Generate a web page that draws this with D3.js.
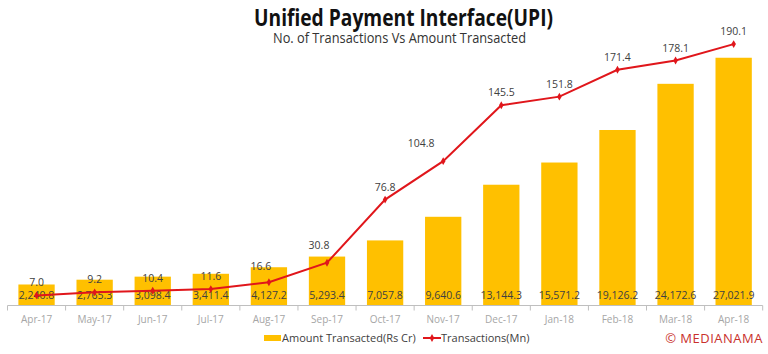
<!DOCTYPE html>
<html>
<head>
<meta charset="utf-8">
<script src="https://cdn.jsdelivr.net/npm/d3@7"></script>
<style>
  body { margin: 0; background: #fff; }
  svg { display: block; font-family: 'Open Sans', sans-serif; }
</style>
</head>
<body>
<div id="chart"></div>
<script>
// data
var months = ['Apr-17','May-17','Jun-17','Jul-17','Aug-17','Sep-17','Oct-17','Nov-17','Dec-17','Jan-18','Feb-18','Mar-18','Apr-18'];
var amount = [2240.8, 2765.3, 3098.4, 3411.4, 4127.2, 5293.4, 7057.8, 9640.6, 13144.3, 15571.2, 19126.2, 24172.6, 27021.9];
var transactions = [7.0, 9.2, 10.4, 11.6, 16.6, 30.8, 76.8, 104.8, 145.5, 151.8, 171.4, 178.1, 190.1];
var seriesNames = ['Amount Transacted(Rs Cr)', 'Transactions(Mn)'];

var width = 768, height = 354;
var barColor = '#ffc000', lineColor = '#e0161b';

var svg = d3.select('#chart')
    .append('svg')
        .attr('width', width)
        .attr('height', height);

// titles (the original is a bit condensed, so squeeze to its width)
svg.append('text')
    .attr('x', 254).attr('y', 25.5)
    .attr('textLength', 299).attr('lengthAdjust', 'spacingAndGlyphs')
    .style('font-size', '22.5px').style('font-weight', 'bold')
    .style('fill', '#111')
    .text('Unified Payment Interface(UPI)');
svg.append('text')
    .attr('x', 273).attr('y', 43)
    .attr('textLength', 253).attr('lengthAdjust', 'spacingAndGlyphs')
    .style('font-size', '14.5px')
    .style('fill', '#333')
    .text('No. of Transactions Vs Amount Transacted');

// scales
var plotTop = 30.5, plotBottom = 305;
var x = d3.scaleBand()
    .domain(months)
    .range([7.5, 762.7])
    .paddingInner(0.375)
    .paddingOuter(0.1875);
var step = x.step();
var yBar = d3.scaleLinear().domain([0, 30000]).range([plotBottom, plotTop]);
var yLine = d3.scaleLinear().domain([0, 200]).range([plotBottom, plotTop]);
var cx = function(m) { return x(m) + x.bandwidth() / 2; };

// bars
svg.append('g').selectAll('rect').data(months)
    .enter().append('rect')
    .attr('x', function(d) { return x(d); })
    .attr('y', function(d, i) { return yBar(amount[i]); })
    .attr('width', x.bandwidth())
    .attr('height', function(d, i) { return plotBottom - yBar(amount[i]); })
    .style('fill', barColor);

// bar labels (inside base)
svg.append('g').selectAll('text').data(months)
    .enter().append('text')
    .attr('x', cx)
    .attr('y', 299)
    .attr('text-anchor', 'middle')
    .style('font-size', '10.5px')
    .style('fill', '#404040')
    .text(function(d, i) { return d3.format(',.1f')(amount[i]); });

// x axis
var axis = svg.append('g')
    .attr('transform', 'translate(0,' + (plotBottom + 0.5) + ')');
axis.append('line')
    .attr('x1', 7.5).attr('x2', 762.7)
    .attr('stroke', '#bfbfbf');
axis.selectAll('line.tick').data(d3.range(months.length + 1))
    .enter().append('line')
    .attr('class', 'tick')
    .attr('x1', function(k) { return 7.5 + k * step; })
    .attr('x2', function(k) { return 7.5 + k * step; })
    .attr('y1', 0).attr('y2', 5)
    .attr('stroke', '#bfbfbf');
axis.selectAll('text').data(months)
    .enter().append('text')
    .attr('x', cx)
    .attr('y', 17)
    .attr('text-anchor', 'middle')
    .style('font-size', '10px')
    .style('fill', '#a6a6a6')
    .text(function(d) { return d; });

// line
var lineGen = d3.line()
    .x(function(d, i) { return cx(months[i]); })
    .y(function(d) { return yLine(d); });
svg.append('path')
    .datum(transactions)
    .attr('d', lineGen)
    .attr('fill', 'none')
    .attr('stroke', lineColor)
    .attr('stroke-width', 2);

var diamond = d3.symbol().type(d3.symbolDiamond).size(18);
svg.append('g').selectAll('path').data(transactions)
    .enter().append('path')
    .attr('d', diamond)
    .attr('transform', function(d, i) { return 'translate(' + cx(months[i]) + ',' + yLine(d) + ')'; })
    .style('fill', lineColor);

// line labels, a few nudged off the steep part of the line
var nudge = {4: [-8, -3], 5: [-8, -5], 7: [-22, -5]};
svg.append('g').selectAll('text').data(transactions)
    .enter().append('text')
    .attr('x', function(d, i) { return cx(months[i]) + (nudge[i] ? nudge[i][0] : 0); })
    .attr('y', function(d, i) { return yLine(d) - 9 + (nudge[i] ? nudge[i][1] : 0); })
    .attr('text-anchor', 'middle')
    .style('font-size', '10.5px')
    .style('fill', '#404040')
    .text(function(d) { return d3.format('.1f')(d); });

// legend
var legend = svg.append('g');
legend.append('rect')
    .attr('x', 264).attr('y', 335).attr('width', 17).attr('height', 6)
    .style('fill', barColor);
legend.append('text')
    .attr('x', 282).attr('y', 342)
    .style('font-size', '11px').style('fill', '#404040')
    .text(seriesNames[0]);
legend.append('line')
    .attr('x1', 423).attr('x2', 441).attr('y1', 338).attr('y2', 338)
    .attr('stroke', lineColor).attr('stroke-width', 2);
legend.append('path')
    .attr('d', diamond)
    .attr('transform', 'translate(432,338)')
    .style('fill', lineColor);
legend.append('text')
    .attr('x', 441).attr('y', 342)
    .style('font-size', '11px').style('fill', '#404040')
    .text(seriesNames[1]);

// watermark
svg.append('text')
    .attr('x', 763).attr('y', 343)
    .attr('text-anchor', 'end')
    .style('font-size', '13px')
    .style('letter-spacing', '0.5px')
    .style('fill', '#c9302c')
    .text('\u00a9 MEDIANAMA');
</script>
</body>
</html>
